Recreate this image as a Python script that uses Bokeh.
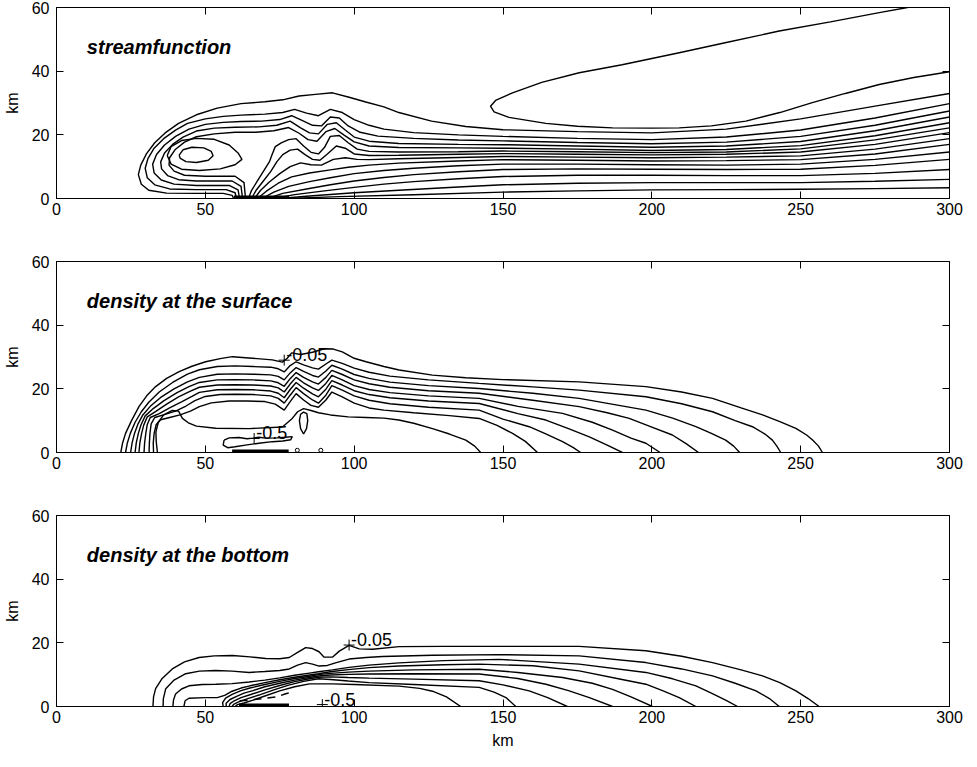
from bokeh.plotting import figure
from bokeh.models import Range1d, LinearAxis, FixedTicker, Label
from bokeh.layouts import column
from bokeh.embed import file_html
from bokeh.resources import INLINE

# ---------------- axes ----------------
x_ticks = [0, 50, 100, 150, 200, 250, 300]
y_ticks = [0, 20, 40, 60]
titles = ["streamfunction", "density at the surface", "density at the bottom"]

# ---------------- panel 1: streamfunction contours (km, km) ----------------
sf_c1 = [(59.5,0),(59,1),(56,1.6),(47,1.6),(37,1.7),(31,2.6),(28.5,4.5),(27.5,7.5),(28.3,10.5),(30.2,14),(33,17.5),(36.5,20.6),(41,23.6),(47,26.3),(54,28.4),(62,29.8),(70,30.4),(76,31),(81.5,32.2),(87,32.7),(92.7,33.2),(98.3,31.8),(103.9,30.3),(110,28.8),(115,27),(126,24.3),(137.5,22.6),(150,21.6),(175,21),(200,20.6),(225,21.8),(250,25),(275,29),(300,33)]
sf_c2 = [(60.5,0),(60,1.8),(57,2.8),(47,2.8),(38,3),(33,4.3),(30.5,6.5),(29.8,9.5),(30.7,12.5),(32.8,15.8),(36,18.8),(40,21.5),(44,23.6),(50,25),(56,25.8),(62,26.2),(70,26.5),(76,27),(80,28),(84,26.8),(88,26),(92,28),(96,27),(100,24.8),(105,23),(110,21.8),(120,20.7),(135,20),(150,19.5),(175,18.9),(200,18.5),(225,19.3),(250,21.5),(275,25.3),(300,29.8)]
sf_c3 = [(61.5,0),(61,2.7),(58,4.1),(47,4.1),(39.5,4.5),(35.2,5.8),(32.8,8),(32.3,10.8),(33.6,13.8),(36.3,16.8),(40,19.5),(44.5,21.8),(50,23.3),(56,23.9),(62,24.2),(69,24.3),(75,24.8),(79,26),(83,24.3),(86,23),(89,22.8),(92,25.6),(95,25.3),(98,22.8),(102,20.8),(108,19.6),(120,18.9),(135,18.4),(150,18.1),(175,17.6),(200,17.2),(225,17.7),(250,19.5),(275,23),(300,27.5)]
sf_c4 = [(62.5,0),(62,3.8),(59,5.5),(47,5.5),(41,5.9),(37.3,7.2),(35.3,9.3),(35,11.5),(36.3,14.3),(39,17),(42.5,19.3),(47,21.2),(53,22.1),(60,22.4),(68,22.5),(74,23),(78.5,24.3),(82,22.2),(85,20.6),(88,20.3),(91,23.3),(94,23.8),(97,21.5),(100,19.3),(105,18),(115,17.3),(135,17),(150,16.9),(175,16.5),(200,16.1),(225,16.5),(250,17.9),(275,21.3),(300,25.6)]
sf_c5 = [(63.5,0),(63,5),(60,7),(50,7),(43,7.3),(39.5,8.6),(37.8,10.5),(38,12.8),(39.8,15.3),(43,17.7),(47,19.4),(53,20.3),(60,20.8),(67,20.8),(73,21.3),(78,22.3),(81.5,20.5),(84.5,18.5),(87.5,18),(90.5,21),(93.5,22),(96.5,20),(100,17.8),(105,16.5),(115,16),(135,15.9),(150,15.8),(175,15.5),(200,15.1),(225,15.4),(250,16.6),(275,19.7),(300,23.8)]
sf_c6 = [(64.5,0),(65.5,2.5),(67.5,5.5),(69.5,8.5),(71.5,11.5),(72.5,14),(73.5,16.3),(75.5,17.5),(78,18.5),(80.5,18.8),(83,16.5),(85.5,14.5),(88,14),(90,16),(92,19.5),(95,19.8),(98,17.5),(101,15.5),(105,14.8),(115,14.6),(135,14.7),(150,14.9),(175,14.7),(200,14.4),(225,14.6),(250,15.6),(275,18.4),(300,22.2)]
sf_c7 = [(65.5,0),(67,2.5),(69.5,5.5),(72,8.5),(74,11.5),(76,13.8),(78.5,15.2),(81,15.5),(83.5,13.8),(86,12.3),(88.5,12),(91,14),(94,16.5),(97,15.8),(100,14),(105,13.5),(115,13.6),(135,13.9),(150,14.1),(175,13.9),(200,13.7),(225,13.9),(250,14.6),(275,17),(300,20.7)]
sf_c8 = [(66.5,0),(68.5,2.5),(71.5,5.2),(75,7.8),(78.5,10),(82,11.2),(85.5,10.6),(89,10.5),(93,12.3),(97,12.8),(101,12.3),(105,12.2),(115,12.5),(135,12.9),(150,13.2),(175,13),(200,12.8),(225,13),(250,13.4),(275,15.5),(300,18.8)]
sf_c9 = [(67.5,0),(70.5,2.3),(74.5,4.8),(79,6.8),(85,8),(92,9),(98,9.8),(105,10.5),(115,11.1),(135,11.8),(150,12.2),(175,12),(200,11.8),(225,11.9),(250,12.2),(275,14),(300,17)]
sf_c10 = [(69,0),(73,2),(78,3.8),(85,5.3),(92,6.5),(100,7.8),(110,8.8),(120,9.5),(135,10.3),(150,10.8),(175,10.8),(200,10.6),(225,10.5),(250,10.8),(275,12.3),(300,14.6)]
sf_c11 = [(71,0),(76,1.6),(84,3),(92,4.3),(100,5.5),(110,6.6),(120,7.5),(135,8.4),(150,9.1),(175,9.3),(200,9.2),(225,9.1),(250,9.2),(275,10.4),(300,12.3)]
sf_c12 = [(73,0),(80,1.2),(90,2.4),(100,3.5),(110,4.5),(120,5.3),(135,6.2),(150,6.9),(175,7.3),(200,7.3),(225,7.2),(250,7.2),(275,7.9),(300,9.1)]
sf_c13 = [(75,0),(85,0.8),(100,1.8),(115,2.6),(135,3.6),(150,4.3),(175,4.8),(200,5),(225,5),(250,5),(275,5.4),(300,6)]
sf_c14 = [(77.5,0),(95,0.6),(120,1.2),(150,2),(175,2.4),(200,2.7),(225,2.8),(250,2.9),(275,3.1),(300,3.4)]
sf_loop_outer = [(37.2,13.5),(38.5,16.3),(42,18.2),(47,18.9),(53,18.6),(58,16.8),(61,14.3),(62.3,12.3),(60,10.6),(55,9.3),(48,8.8),(42,9.2),(38.5,10.8),(37.2,13.5)]
sf_loop_inner = [(41.2,13.6),(42.5,15.3),(45.5,16.1),(49.5,15.9),(52,14.8),(52.6,13.4),(51,12),(47,11.3),(43.5,11.6),(41.6,12.6),(41.2,13.6)]
sf_eddy = [(285.9,60),(276.4,58.4),(260,55.5),(242.8,52.6),(225,49),(209.2,45.8),(190,42),(175.6,39.5),(163,36.5),(153.2,33.2),(147.5,30.8),(145.8,29),(147,27.2),(152,25.5),(164.4,23.6),(175,22.7),(186.8,22.2),(200,22.1),(209.2,22.2),(220,22.8),(231.6,24.3),(243,27),(253.9,30.1),(265,33),(276.4,35.8),(288,38),(300,39.8)]
sf_bar = [(59.6,0.3),(78.1,0.3)]

# ---------------- panel 2: density at the surface ----------------
ds_c1 = [(21.6,0),(22.2,3),(23.2,6),(25.2,10),(27.7,14.4),(30.3,17.8),(33.3,20.7),(37,23.3),(41.2,25.4),(45.5,27.1),(50.1,28.5),(55,29.5),(59.1,30.1),(65.8,29.6),(72.5,29.1),(75.9,28.4),(77.5,29.6),(79,31.3),(82,30.8),(86,31.5),(90,32.6),(93,32.5),(96,31.6),(100,29.6),(104,28.5),(110,27),(115.1,25.9),(126.3,24.3),(137.5,23.5),(150,22.9),(175.6,22.2),(198,20.7),(210,19),(220.4,17),(230,14),(237.2,11.8),(243,9.7),(248.4,7.6),(252,5.5),(254,3.9),(256,2),(257.3,0)]
ds_c2 = [(23.2,0),(23.8,3),(24.8,6),(26.4,9.5),(28.5,12.8),(31,15.8),(34.5,19),(39,22),(44,24.6),(48,26),(54,27),(60,27.2),(66,27),(72,26.8),(74.5,26.3),(76.5,25.3),(78.5,27.3),(80.5,28.5),(83,27.5),(86,26.6),(88,26.2),(90.5,27.8),(92.5,29),(96,28),(100,26.5),(105,25.2),(112,24),(125,22.8),(142,21.7),(160,20.6),(175.6,19.6),(198,17.5),(210,15.3),(220.4,12.8),(228,10),(233.8,8.1),(238,5.8),(240.5,3.9),(242,2),(243.3,0)]
ds_c3 = [(24.9,0),(25.4,3),(26.2,6),(27.4,9),(29,11.8),(31.5,14.5),(35,17.3),(39.5,20),(44,22.2),(48,23.6),(54,24.6),(60,24.7),(66,24.6),(72,24.4),(74.5,23.9),(76.5,22.8),(78.5,25),(80.5,26.7),(83,25.5),(86,24.2),(88,23.7),(90.5,25.6),(92.5,27.4),(96,26.2),(100,24.5),(105,23.3),(112,22.1),(125,21),(142,20.1),(160,18.6),(175.6,17),(198,13.3),(207,10.8),(214.8,8.1),(220,6),(224.8,3.9),(227.5,2),(229.5,0)]
ds_c4 = [(26.4,0),(26.8,3),(27.5,6),(28.4,8.7),(29.8,11.5),(32.5,13.8),(36,16.2),(40.5,18.8),(44.5,20.7),(48,22),(54,22.8),(60,22.9),(66,22.8),(72,22.5),(74.5,21.9),(76.5,20.8),(78.5,23.2),(80.5,25.1),(83,23.6),(86,22.2),(88,21.5),(90.5,23.6),(92.5,25.8),(96,24.5),(100,22.8),(105,21.6),(112,20.5),(125,19.4),(142,18.6),(160,16.4),(175.6,14.4),(185,12.5),(192.4,10.7),(200,8),(206.9,5.5),(211.5,2.8),(215.7,0)]
ds_c5 = [(27.7,0),(28,3),(28.6,6),(29.3,8.6),(30.5,11.2),(33.5,13),(37,15.2),(41,17.5),(45,19.3),(48,20.5),(54,21.2),(60,21.3),(66,21.2),(72,20.9),(74.5,20.3),(76.5,19),(78.5,21.5),(80.5,23.6),(83,21.9),(86,20.3),(88,19.5),(90.5,21.7),(92.5,24.2),(96,22.8),(100,21),(105,19.8),(112,18.8),(125,17.8),(142,17),(155,14.5),(170,12.3),(180,9.5),(186.8,7),(193,4.5),(198,2.9),(202.8,0)]
ds_c6 = [(29.4,0),(29.6,3),(30,6),(30.5,8.8),(31.5,11),(34.5,12.2),(38,14),(42,15.9),(45.5,17.6),(48,18.9),(54,19.7),(60,19.8),(66,19.7),(72,19.3),(74.5,18.6),(76.5,17.2),(78.5,19.8),(80.5,22),(83,20.2),(86,18.4),(88,17.5),(90.5,19.9),(92.5,22.6),(96,21.2),(100,19.4),(105,18.2),(112,17.2),(125,16.2),(142,15.4),(155,12.2),(164.4,10.2),(172,7.5),(179,4.9),(185,2.3),(190.1,0)]
ds_c7 = [(31.1,0),(31.2,3),(31.4,6),(31.8,9),(33,11),(36.5,12),(40,13),(43.5,14.6),(46.5,16.3),(50,17.6),(55,18.2),(60,18.3),(66,18.2),(72,17.8),(74.5,17),(76.5,15.5),(78.5,18),(80.5,20.4),(83,18.5),(86,16.5),(88,15.5),(90.5,18),(92.5,21),(96,19.6),(100,17.8),(105,16.4),(112,15.3),(125,14.2),(142,13.3),(150,10.5),(158.8,8.1),(164,6),(170,3.4),(173.5,1.6),(176.1,0)]
ds_c8 = [(32.6,0),(32.5,3),(32.8,6),(33.5,8.8),(35,10.3),(38,11),(41.5,11.8),(45,13),(48,14.4),(52,15.6),(58,16.2),(64,16.2),(70,16),(73.5,15.2),(76.5,13.3),(78.5,16),(80.5,18.5),(83,16.5),(85.5,14.8),(88,14.2),(90.5,16.5),(92.5,19),(96,17.5),(100,15.5),(105,14),(110,13.3),(120,12.5),(132,11.6),(142,10.7),(148,8.5),(153.2,6),(157.5,3.5),(161.6,0)]
ds_c9 = [(33.9,0),(33.5,3.5),(33.4,6.5),(34.2,9.5),(36,11.8),(38.9,13.2),(41,13),(42.3,10.7),(44.5,9.2),(47,8.3),(53.5,7.6),(64.7,7.5),(75.9,8),(79,10.5),(81,12.8),(83,13.8),(85.5,13.2),(88,12.5),(92,11.8),(98,11.2),(104,11),(110,10.8),(115,10.2),(120,9.2),(126.3,7.5),(132,5.8),(137.5,3.9),(140.5,2),(142.5,0)]
ds_drop = [(83,5.8),(82,7.5),(81.6,10),(82,12),(83,12.7),(84.1,12.2),(84.4,10),(84,7.5),(83,5.8)]
ds_half = [(56.3,3.9),(58,4.6),(61.3,4.7),(64,4.3),(66,4.5),(68,4.8),(70.3,4.5),(74,4.6),(77,4.8),(79.2,5),(78.7,4),(76,3.6),(72.5,3.4),(68,2.9),(64,2.4),(60,1.8),(57.5,1.5),(56,2.3),(56.3,3.9)]
ds_bar = [(59,0.3),(78,0.3)]
ds_dots_x = [80.9, 88.8]
ds_dots_y = [0.7, 0.7]
ds_label_text = ["-0.05", "-0.5"]
ds_label_x = [76.5, 66.4]
ds_label_y = [29.0, 4.4]

# ---------------- panel 3: density at the bottom ----------------
db_c1 = [(32.4,0),(32.6,3),(33.3,5.6),(35.5,8.8),(38.9,11.8),(43,14),(47.9,15.4),(53,15.9),(59.1,16),(65,15.6),(70.3,15.1),(75,15),(78.2,15.4),(81,17),(83.7,18.5),(86,18.2),(88.2,17.2),(89.9,15.5),(92.7,15.5),(95,17.4),(98.3,19.2),(101.7,18.1),(106.2,18),(115.1,18.8),(130,18.9),(148.7,18.9),(175.6,18.9),(198,17.5),(210,15.8),(220.4,13.8),(230,11.5),(237.2,9.6),(243,7.5),(248.4,4.9),(252.5,2.5),(256.2,0)]
db_c2 = [(35.8,0),(35.9,2.5),(36.7,5.6),(39.5,8.3),(43.4,10.3),(48,11.1),(53.5,11.3),(59,11.1),(64.7,10.7),(70,11),(75,11.3),(78.2,11.8),(81,13),(83.7,13.8),(86,13.3),(88.2,12.7),(91,12.9),(94,13.8),(98.3,14.9),(104,15.4),(109.5,15.7),(126.3,16.1),(148.7,16.3),(175.6,15.9),(198,13.8),(210,11.8),(220.4,9.6),(228,7.3),(235,4.9),(239.5,2.5),(242.8,0)]
db_c3 = [(39.1,0),(39.3,2),(40,3.9),(42,5.5),(44.5,6.5),(49,6.9),(53.5,7),(59,7.2),(64.7,7.7),(70,8.3),(75,9),(80,9.8),(85,10.5),(88,10.9),(92.7,11.5),(98.3,12.3),(105,13),(115.1,13.7),(130,14.4),(148.7,14.8),(175.6,13.3),(198,10.7),(207,8.7),(214.8,6.5),(220,4.2),(224.8,2),(228.8,0)]
db_c4 = [(42.8,0),(43.2,1.8),(44.5,2.6),(50,2.8),(54,2.8),(56.5,3.5),(59,4.8),(62,5.8),(65,6.5),(70,7.5),(75,8.4),(80,9.2),(85,9.9),(88,10.3),(92,10.9),(98,11.6),(105,12.2),(115,12.7),(130,13.1),(142,13.3),(160,12.8),(175.6,11.2),(190,8.5),(198,7),(204,4.8),(209.2,2.8),(214.8,0)]
db_c5 = [(56,0),(55.8,1.2),(56.8,2.6),(59,3.8),(62,5),(65,5.8),(70,6.9),(75,7.9),(80,8.8),(85,9.5),(88,10),(92,10.4),(98,10.8),(105,11.1),(120,11.5),(142,11.7),(155,10.7),(170,9.1),(180,7.3),(186.8,5.4),(193,3),(200.2,0)]
db_c6 = [(57,0),(57,1),(58.3,2.2),(60.5,3.2),(63,4.2),(66,5),(70,6.2),(75,7.3),(80,8.3),(85,9.1),(88,9.6),(92,9.9),(98,10.1),(105,10.2),(120,10.3),(142,10.2),(155,8.8),(164.4,7),(172,5),(179,2.8),(186.8,0)]
db_c7 = [(58,0),(58.3,0.9),(59.7,1.8),(62,2.8),(65,3.7),(70,5.2),(75,6.6),(80,7.8),(85,8.7),(88,9.2),(92,9.3),(98,9.1),(105,8.9),(120,8.6),(142,8.1),(150,6.8),(158.8,4.9),(165,2.8),(171.6,0)]
db_c8 = [(59,0),(59.5,0.7),(61,1.4),(64,2.4),(68,3.6),(73,5.2),(78,6.7),(83,7.9),(88,8.7),(92,8.5),(98,8),(105,7.5),(120,6.9),(142,6),(147,4.5),(151,2.8),(154.3,0)]
db_c9 = [(60,0),(60.8,0.6),(63,1.1),(66,2),(70,3.3),(75,4.9),(80,6.2),(85,7.1),(92.7,7.1),(100,6.9),(115.1,6.4),(122,5.7),(126.3,4.8),(131,3),(135.8,0)]
db_dashed = [(61.5,1.8),(65,2),(70,2.6),(74,3),(77,4),(79.5,4.6)]
db_bar = [(61.3,0.3),(78.1,0.3)]
db_label_text = ["-0.05", "-0.5"]
db_label_x = [98.3, 89.3]
db_label_y = [19.3, 0.6]

FONT = "Liberation Sans"


def xs_ys(lines):
    return [[pt[0] for pt in ln] for ln in lines], [[pt[1] for pt in ln] for ln in lines]


def make_fig(top, bottom, title, xlabel=None):
    p = figure(frame_width=893, frame_height=191,
               x_range=Range1d(0, 300), y_range=Range1d(0, 60),
               output_backend="svg", toolbar_location=None,
               min_border_left=50, min_border_right=19,
               min_border_top=top, min_border_bottom=bottom,
               background_fill_color="white", border_fill_color="white")
    p.grid.visible = False
    p.outline_line_color = "black"
    p.outline_line_width = 1
    p.xaxis.ticker = FixedTicker(ticks=x_ticks)
    p.yaxis.ticker = FixedTicker(ticks=y_ticks)
    for ax in (p.xaxis[0], p.yaxis[0]):
        ax.major_tick_in = 7
        ax.major_tick_out = 0
        ax.minor_tick_line_color = None
        ax.major_label_text_font = FONT
        ax.major_label_text_font_size = "16px"
        ax.major_label_text_color = "black"
        ax.axis_line_color = "black"
        ax.major_tick_line_color = "black"
        ax.axis_label_text_color = "black"
        ax.axis_label_text_font = FONT
        ax.axis_label_text_font_size = "16px"
        ax.axis_label_text_font_style = "normal"
    p.xaxis.major_label_standoff = 4
    p.yaxis.major_label_standoff = 7
    p.yaxis.axis_label = "km"
    p.yaxis.axis_label_standoff = 8
    if xlabel:
        p.xaxis.axis_label = xlabel
        p.xaxis.axis_label_standoff = 6
    for loc, ticks in (("above", x_ticks), ("right", y_ticks)):
        ax = LinearAxis(ticker=FixedTicker(ticks=ticks), major_tick_in=7, major_tick_out=0,
                        minor_tick_line_color=None, axis_line_color=None,
                        major_label_text_color=None, major_label_text_alpha=0,
                        major_label_text_font_size="1px", major_label_standoff=0,
                        major_label_overrides={t: "" for t in ticks},
                        major_tick_line_color="black")
        p.add_layout(ax, loc)
    p.add_layout(Label(x=10.2, y=47.7, text=title, text_font=FONT, text_color="black",
                       text_font_style="bold italic", text_font_size="20px",
                       text_baseline="alphabetic", text_align="left"))
    return p


def draw_lines(p, lines, width=1.4, dash="solid"):
    xs, ys = xs_ys(lines)
    p.multi_line(xs, ys, line_color="black", line_width=width, line_dash=dash)


def draw_labels(p, tx, ty, texts):
    p.scatter(tx, ty, marker="cross", size=11, line_color="black", line_width=1)
    for x, y, t in zip(tx, ty, texts):
        p.add_layout(Label(x=x, y=y, text=t, text_font=FONT, text_font_size="18px",
                           text_color="black", text_baseline="bottom", text_align="left",
                           x_offset=2, y_offset=-1))


p1 = make_fig(7, 30, titles[0])
draw_lines(p1, [sf_c1, sf_c2, sf_c3, sf_c4, sf_c5, sf_c6, sf_c7, sf_c8, sf_c9, sf_c10,
                sf_c11, sf_c12, sf_c13, sf_c14, sf_loop_outer, sf_loop_inner, sf_eddy])
draw_lines(p1, [sf_bar], width=4)

p2 = make_fig(33, 30, titles[1])
draw_lines(p2, [ds_c1, ds_c2, ds_c3, ds_c4, ds_c5, ds_c6, ds_c7, ds_c8, ds_c9, ds_drop, ds_half])
draw_lines(p2, [ds_bar], width=4)
p2.scatter(ds_dots_x, ds_dots_y, marker="circle", size=4, line_color="black", fill_color=None)
draw_labels(p2, ds_label_x, ds_label_y, ds_label_text)

p3 = make_fig(33, 45, titles[2], xlabel="km")
draw_lines(p3, [db_c1, db_c2, db_c3, db_c4, db_c5, db_c6, db_c7, db_c8, db_c9])
draw_lines(p3, [db_dashed], width=1.5, dash="8 6")
draw_lines(p3, [db_bar], width=4)
draw_labels(p3, db_label_x, db_label_y, db_label_text)

layout = column(p1, p2, p3, spacing=0)
open("out.html", "w").write(file_html(layout, INLINE))
